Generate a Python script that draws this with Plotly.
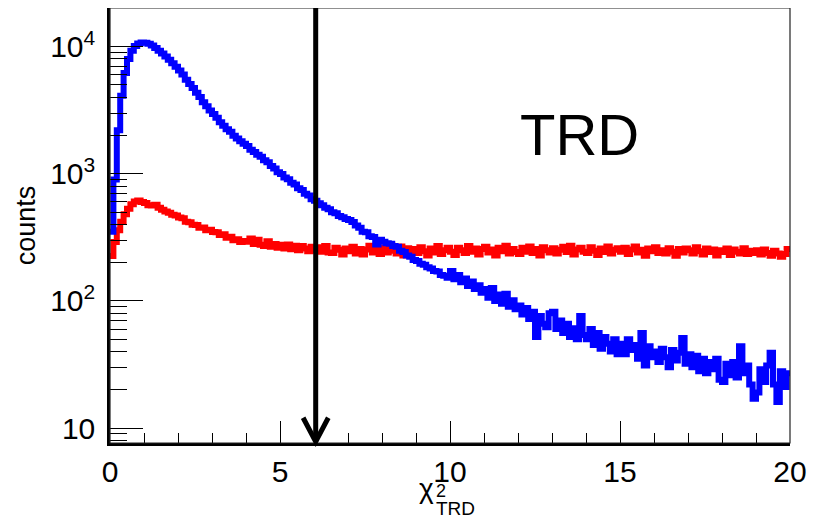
import numpy as np
import plotly.graph_objects as go

# chi2_TRD histogram, 200 bins of 0.1 from 0 to 20
bin_width = 0.1
x_min, x_max = 0.0, 20.0

# blue: electrons (counts per bin)
blue_counts = [
    350, 900, 2200, 4100, 6200, 8000, 9300, 10100, 10600, 10800,
    10750, 10550, 10200, 9750, 9300, 8850, 8350, 7900, 7400, 6950,
    6500, 6050, 5480, 5080, 4720, 4330, 4010, 3660, 3400, 3140,
    2950, 2760, 2540, 2390, 2240, 2140, 1990, 1890, 1800, 1720,
    1650, 1545, 1480, 1410, 1360, 1280, 1230, 1150, 1100, 1030,
    995, 935, 905, 850, 825, 770, 745, 695, 675, 630,
    612, 585, 565, 540, 525, 498, 488, 465, 455, 440,
    432, 418, 392, 376, 350, 346, 322, 318, 278, 302,
    292, 284, 282, 270, 266, 248, 242, 228, 222, 210,
    206, 196, 192, 184, 180, 172, 170, 160, 158, 152,
    172, 148, 160, 140, 150, 131, 142, 124, 133, 116,
    124, 106, 126, 100, 112, 95, 114, 90, 101, 86,
    92, 78, 88, 72, 82, 52, 76, 66, 62, 80,
    82, 60, 70, 56, 66, 52, 61, 50, 76, 54,
    50, 60, 45, 56, 42, 52, 46, 40, 50, 38,
    46, 38, 50, 41, 45, 35, 56, 31, 44, 36,
    40, 33, 42, 36, 30, 41, 34, 39, 51, 32,
    38, 30, 37, 28, 35, 27, 33, 29, 35, 24,
    23, 32, 26, 33, 25, 44, 27, 31, 22, 17,
    19, 29, 23, 31, 39, 22, 16, 28, 21, 27,
]

# red: pions
red_counts = [
    225, 290, 360, 420, 480, 530, 575, 605, 615, 600,
    590, 566, 562, 570, 540, 522, 505, 494, 476, 470,
    452, 446, 420, 416, 398, 396, 376, 378, 360, 362,
    348, 346, 330, 334, 314, 320, 300, 305, 290, 296,
    292, 310, 280, 302, 276, 270, 295, 266, 280, 262,
    276, 258, 278, 255, 272, 250, 270, 258, 246, 266,
    250, 264, 244, 270, 240, 238, 262, 252, 232, 258,
    246, 266, 236, 256, 232, 254, 272, 240, 258, 234,
    262, 240, 276, 248, 236, 268, 228, 260, 242, 256,
    238, 264, 246, 228, 258, 240, 270, 234, 250, 262,
    244, 230, 262, 250, 238, 270, 244, 258, 232, 256,
    266, 240, 254, 228, 262, 246, 272, 236, 256, 242,
    234, 262, 244, 268, 238, 256, 228, 264, 250, 240,
    260, 236, 252, 266, 242, 272, 232, 254, 262, 244,
    238, 264, 248, 230, 258, 242, 268, 236, 252, 260,
    244, 262, 234, 254, 268, 240, 252, 226, 258, 246,
    264, 238, 250, 236, 260, 244, 226, 256, 240, 258,
    250, 236, 264, 246, 232, 258, 242, 254, 228, 250,
    242, 258, 230, 254, 244, 236, 260, 234, 248, 238,
    250, 232, 254, 238, 226, 248, 236, 222, 234, 256,
]

cut_value = 6.05
x_ticks = [0, 5, 10, 15, 20]
y_ticks = [10, 100, 1000, 10000]
y_tick_text = ["10", "10<sup>2</sup>", "10<sup>3</sup>", "10<sup>4</sup>"]
y_range_log = [0.882, 4.304]

FONT = "Liberation Sans, Arial, Helvetica, sans-serif"

n_bins = len(blue_counts)
edges = x_min + bin_width * np.arange(n_bins + 1)


def step_xy(counts):
    # ROOT-like histogram outline: one horizontal step per bin
    return edges, list(counts) + [counts[-1]]


fig = go.Figure()
for counts, color in [(red_counts, "#ff0000"), (blue_counts, "#0000ff")]:
    sx, sy = step_xy(counts)
    fig.add_trace(
        go.Scatter(
            x=sx,
            y=sy,
            mode="lines",
            line=dict(color=color, width=6, shape="hv"),
            showlegend=False,
            hoverinfo="skip",
        )
    )

y_minor = [m * 10 ** e for e in range(0, 5) for m in range(2, 10)]

# the page body adds an 8px offset, so the figure is 8px smaller than the window
fig.update_layout(
    width=815,
    height=513,
    margin=dict(l=102, r=33, t=0, b=78),
    paper_bgcolor="white",
    plot_bgcolor="white",
    font=dict(family=FONT, color="black"),
    showlegend=False,
)
fig.update_xaxes(
    range=[x_min, x_max],
    automargin=False,
    showgrid=False,
    zeroline=False,
    showline=True,
    linecolor="black",
    linewidth=2.5,
    ticks="inside",
    ticklen=22,
    tickwidth=1,
    tickcolor="black",
    tickvals=x_ticks,
    ticktext=[str(v) for v in x_ticks],
    tickfont=dict(size=30, family=FONT, color="black"),
    minor=dict(ticks="inside", ticklen=10, tickwidth=1, tickcolor="black", dtick=1, showgrid=False),
)
fig.update_yaxes(
    type="log",
    range=y_range_log,
    automargin=False,
    showgrid=False,
    zeroline=False,
    showline=True,
    linecolor="black",
    linewidth=2.5,
    ticks="inside",
    ticklen=33,
    tickwidth=1,
    tickcolor="black",
    tickvals=y_ticks,
    ticktext=y_tick_text,
    tickfont=dict(size=30, family=FONT, color="black"),
    ticklabelstandoff=6,
    minor=dict(ticks="inside", ticklen=17, tickwidth=1, tickcolor="black", tickvals=y_minor, showgrid=False),
    title=dict(text="counts", font=dict(size=27, family=FONT, color="black"), standoff=7),
)

# thin frame on top / right
fig.add_shape(
    type="rect", xref="paper", yref="paper", x0=0, y0=0, x1=1, y1=1,
    line=dict(color="#222222", width=1.2), layer="above",
)

# cut arrow
fig.add_shape(
    type="line", xref="x", yref="paper", x0=cut_value, x1=cut_value, y0=0.003, y1=1.0,
    line=dict(color="black", width=5),
)
fig.add_shape(
    type="path", xref="x", yref="paper",
    path=f"M {cut_value - 0.37},0.058 L {cut_value},0.003 L {cut_value + 0.37},0.058",
    line=dict(color="black", width=5),
)

# labels
fig.add_annotation(
    text="TRD", xref="paper", yref="paper", x=0.69, y=0.71, showarrow=False,
    font=dict(size=58, family=FONT, color="black"), xanchor="center", yanchor="middle",
)
fig.add_annotation(
    text="χ", xref="paper", yref="paper", x=0.479, y=-0.104, showarrow=False,
    font=dict(size=28, family=FONT, color="black"), xanchor="right", yanchor="middle",
)
fig.add_annotation(
    text="2", xref="paper", yref="paper", x=0.477, y=-0.11, showarrow=False,
    font=dict(size=18, family=FONT, color="black"), xanchor="left", yanchor="middle",
)
fig.add_annotation(
    text="TRD", xref="paper", yref="paper", x=0.477, y=-0.15, showarrow=False,
    font=dict(size=19, family=FONT, color="black"), xanchor="left", yanchor="middle",
)

fig.write_html("out.html")
